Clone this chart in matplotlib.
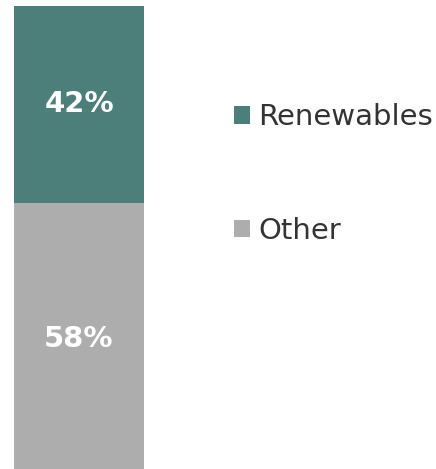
import matplotlib
matplotlib.use("Agg")
import matplotlib.pyplot as plt

categories = ["Renewables", "Other"]
shares = [42, 58]
labels = ["42%", "58%"]
colors = ["#4d7f7a", "#adadad"]

fig = plt.figure(figsize=(4.36, 4.69), dpi=100)
# bar spans x 14..144 px, y 6..475 px (bottom runs slightly past the image)
ax = fig.add_axes([14 / 436, (469 - 475) / 469, 130 / 436, 469 / 469])

# stack Other at bottom, Renewables on top
bottom = 0
handles = {}
for cat, val, lab, col in reversed(list(zip(categories, shares, labels, colors))):
    b = ax.bar(0, val, width=1, bottom=bottom, color=col, label=cat)
    handles[cat] = b
    ax.text(0, bottom + val / 2, lab, ha="center", va="center",
            color="white", fontsize=21, fontweight="bold")
    bottom += val

ax.set_xlim(-0.5, 0.5)
ax.set_ylim(0, 100)
ax.axis("off")

fig.legend([handles[c] for c in categories], categories,
           loc="center left", bbox_to_anchor=(234 / 436, 1 - 174 / 469),
           frameon=False, fontsize=21, labelcolor="#333333",
           handlelength=0.55, handleheight=0.55, handletextpad=0.27,
           labelspacing=2.93, borderpad=0, borderaxespad=0)

fig.savefig("out.png", dpi=100)
